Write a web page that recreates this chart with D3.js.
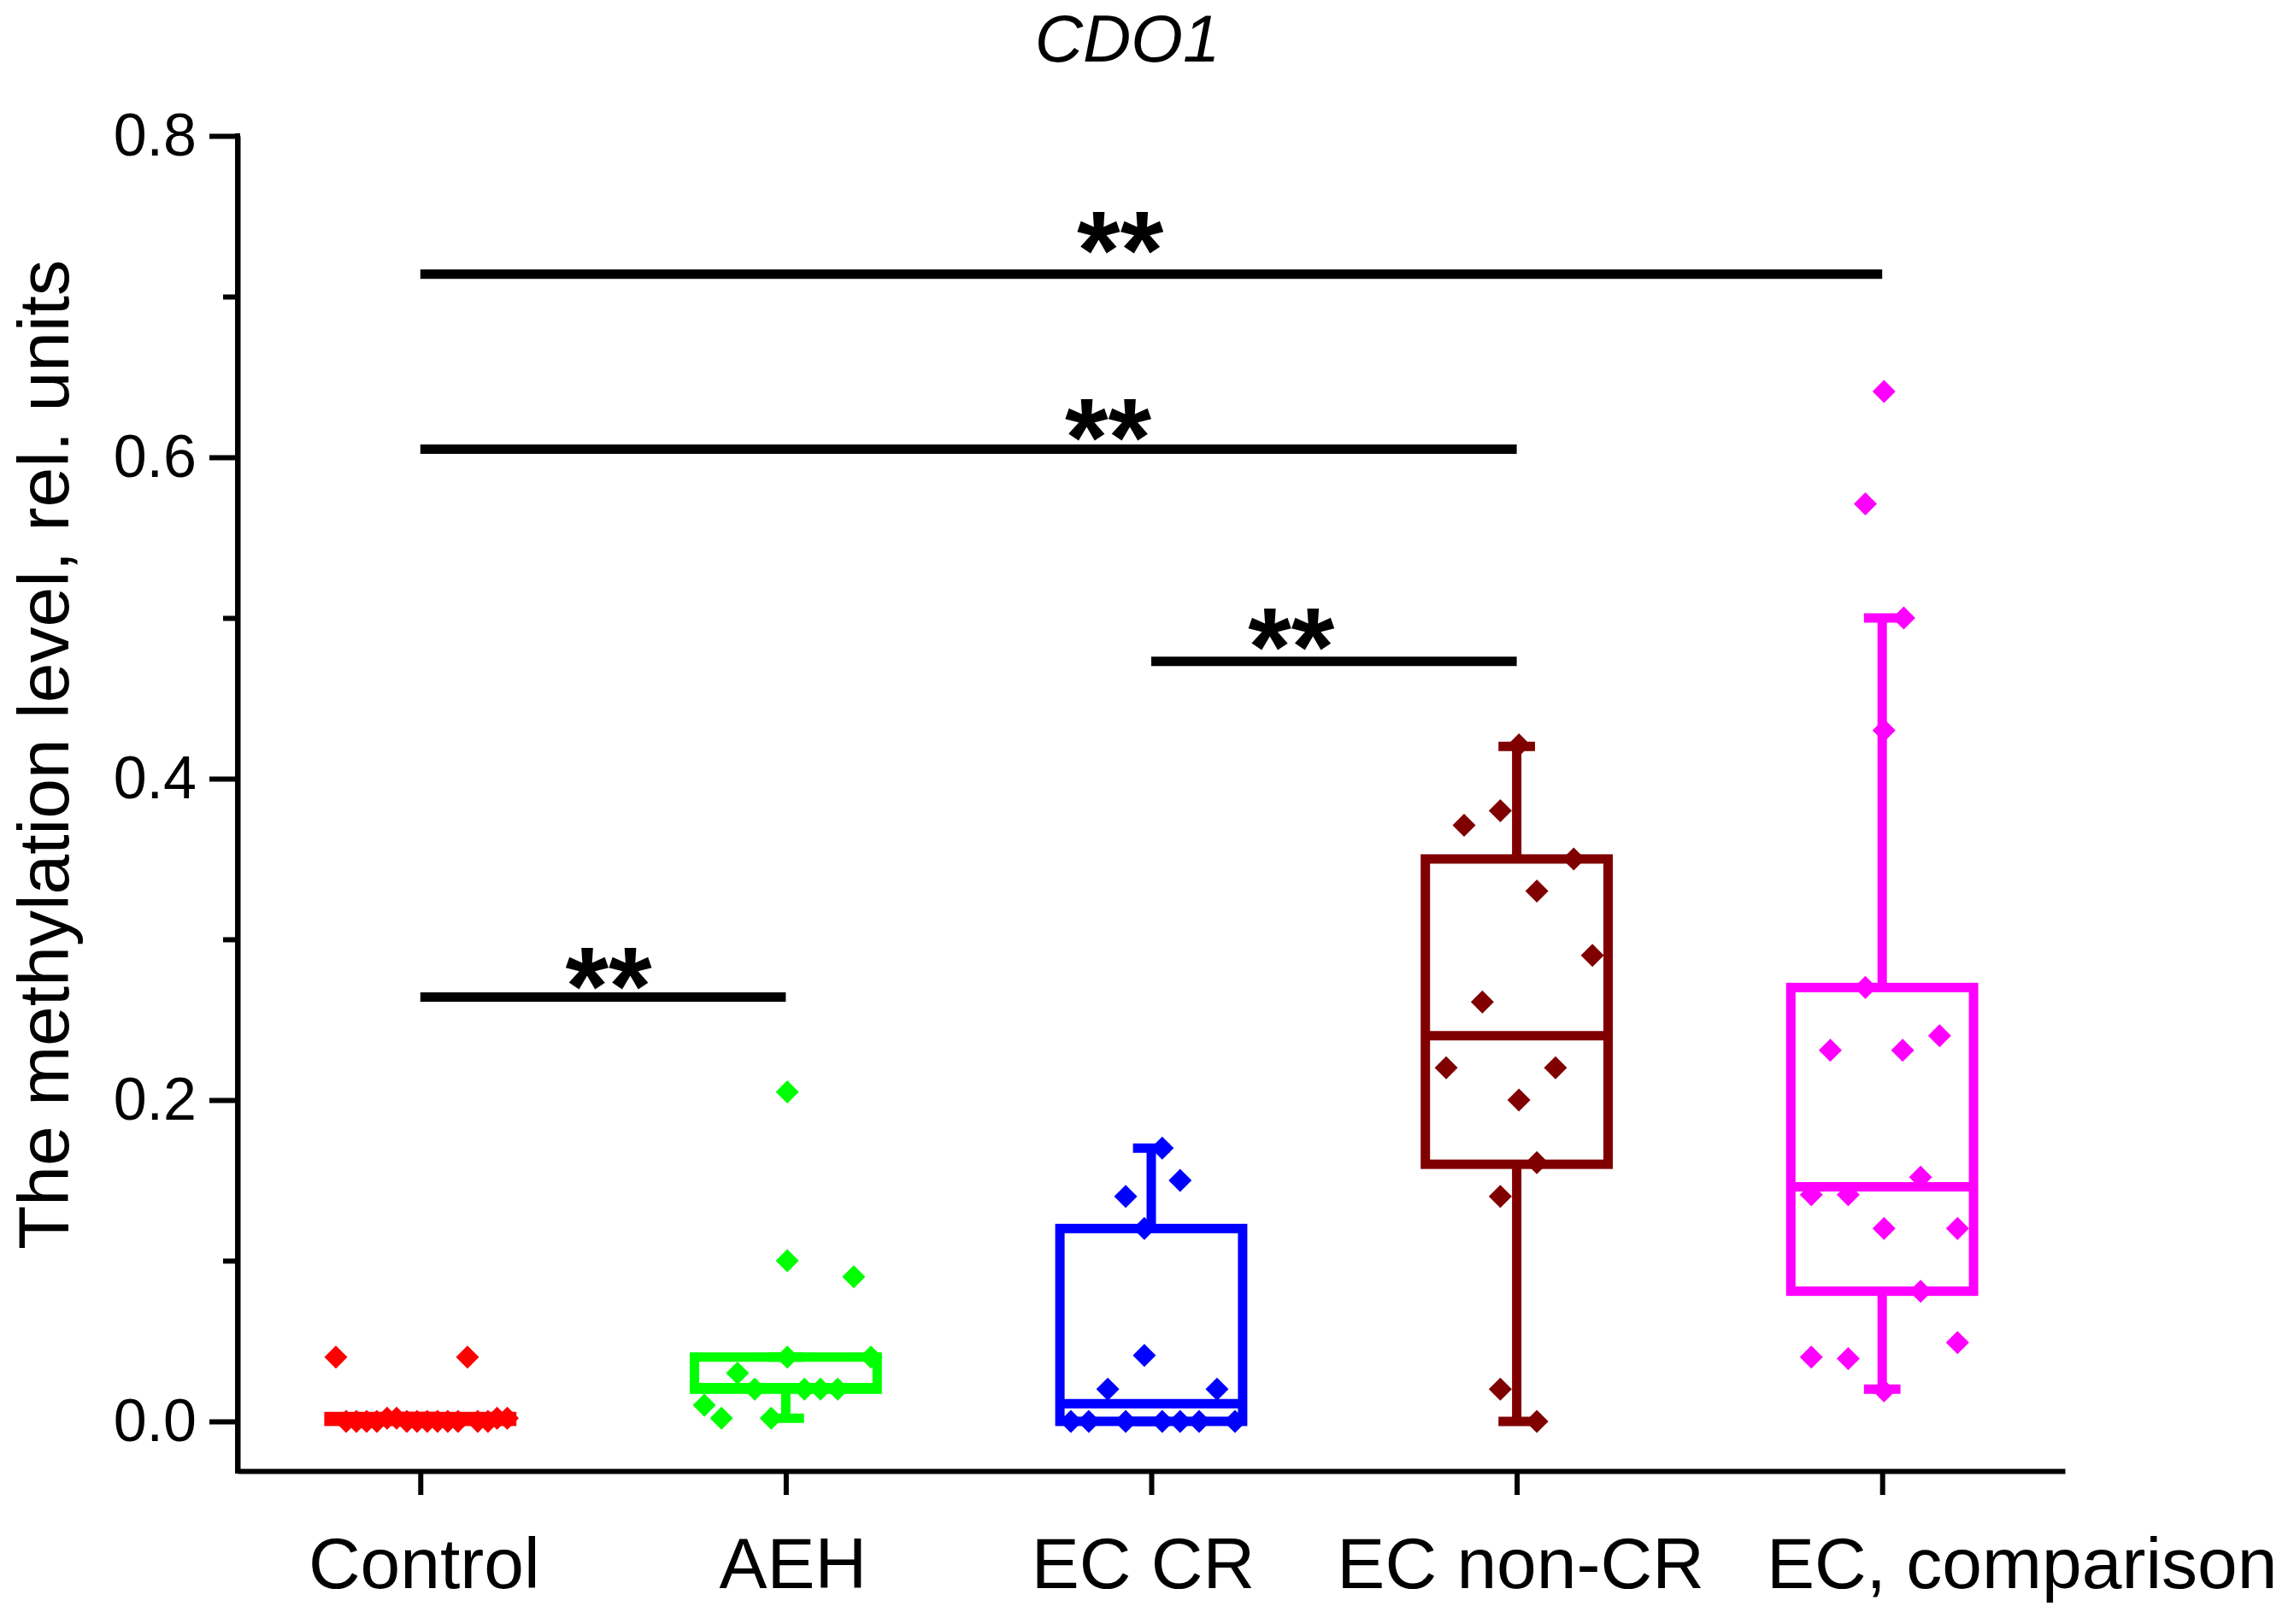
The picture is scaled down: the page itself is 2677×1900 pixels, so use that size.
<!DOCTYPE html>
<html>
<head>
<meta charset="utf-8">
<script src="https://cdn.jsdelivr.net/npm/d3@7"></script>
<style>
  body { margin: 0; background: #fff; }
  svg { display: block; font-family: "Liberation Sans", Arial, sans-serif; }
</style>
</head>
<body>
<svg width="2677" height="1900"></svg>
<script>
// categories and colours
const categories = ["Control", "AEH", "EC CR", "EC non-CR", "EC, comparison"];
const colors = ["#ff0000", "#00ff00", "#0000ff", "#800000", "#ff00ff"];

// box statistics
const whiskerLow  = [0,     0.002, 0,     0,    0.02];
const q1          = [0,     0.02,  0,     0.16, 0.081];
const median      = [0.001, 0.021, 0.011, 0.24, 0.146];
const q3          = [0.003, 0.04,  0.12,  0.35, 0.27];
const whiskerHigh = [0.003, 0.04,  0.17,  0.42, 0.50];

// raw points (value) and horizontal jitter (fraction of category step)
const controlValues = [0.04, 0.04, 0, 0, 0, 0, 0.002, 0.002, 0, 0, 0, 0, 0, 0, 0, 0, 0.002, 0.002];
const controlJitter = [-0.231, 0.129, -0.203, -0.175, -0.147, -0.119, -0.091, -0.065, -0.037, -0.009,
                       0.019, 0.047, 0.075, 0.103, 0.157, 0.185, 0.210, 0.238];
const aehValues = [0.205, 0.100, 0.090, 0.040, 0.040, 0.030, 0.020, 0.020, 0.020, 0.020, 0.010, 0.002, 0.002];
const aehJitter = [0.004, 0.004, 0.186, 0.004, 0.233, -0.132, -0.085, 0.051, 0.095, 0.142, -0.223, -0.176, -0.040];
const ecCrValues = [0.170, 0.150, 0.140, 0.120, 0.041, 0.020, 0.020, 0, 0, 0, 0, 0, 0, 0];
const ecCrJitter = [0.030, 0.079, -0.070, -0.019, -0.019, -0.119, 0.180, -0.220, -0.171, -0.070, 0.030, 0.079, 0.131, 0.229];
const ecNonCrValues = [0.371, 0.380, 0.421, 0.350, 0.330, 0.290, 0.261, 0.220, 0.220, 0.200, 0.161, 0.140, 0.020, 0.000];
const ecNonCrJitter = [-0.144, -0.045, 0.006, 0.156, 0.055, 0.207, -0.094, -0.193, 0.106, 0.006, 0.055, -0.045, -0.045, 0.055];
const ecCompValues = [0.641, 0.571, 0.500, 0.430, 0.270, 0.231, 0.231, 0.240, 0.152, 0.141, 0.141, 0.120, 0.120,
                      0.081, 0.049, 0.040, 0.039, 0.019];
const ecCompJitter = [0.005, -0.046, 0.059, 0.005, -0.046, -0.142, 0.056, 0.157, 0.105, -0.194, -0.093, 0.005, 0.206,
                      0.105, 0.206, -0.194, -0.093, 0.005];

// significance brackets
const bracketFrom  = [0, 0, 2, 0];
const bracketTo    = [4, 3, 3, 1];
const bracketLevel = [0.714, 0.605, 0.473, 0.264];
const starAt       = [1.915, 1.882, 2.383, 0.515];   // category index
const starBottom   = [0.732, 0.615, 0.485, 0.274];   // value
const starLabel    = ["**", "**", "**", "**"];

const yMajor = [0, 0.2, 0.4, 0.6, 0.8];
const yMinor = [0.1, 0.3, 0.5, 0.7];

const groups = [
  [controlValues, controlJitter],
  [aehValues, aehJitter],
  [ecCrValues, ecCrJitter],
  [ecNonCrValues, ecNonCrJitter],
  [ecCompValues, ecCompJitter]
];

const svg = d3.select("svg");
const plotLeft = 278, plotRight = 2416, plotTop = 159, plotBottom = 1721;

const x = d3.scalePoint().domain(categories).range([plotLeft, plotRight]).padding(0.5);
const xi = d3.scaleLinear().domain([0, 4]).range([x(categories[0]), x(categories[4])]);
const y = d3.scaleLinear().domain([-0.0309, 0.8]).range([plotBottom, plotTop]);
const step = x.step();

const diamond = {
  draw(ctx, size) {
    const r = Math.sqrt(size) / 2;
    ctx.moveTo(0, -r); ctx.lineTo(r, 0); ctx.lineTo(0, r); ctx.lineTo(-r, 0); ctx.closePath();
  }
};

// title
svg.append("text")
  .attr("x", 1319).attr("y", 72)
  .attr("text-anchor", "middle")
  .attr("font-size", 78).attr("font-style", "italic")
  .text("CDO1");

// y label
svg.append("text")
  .attr("transform", "translate(80,883) rotate(-90)")
  .attr("text-anchor", "middle")
  .attr("font-size", 84)
  .text("The methylation level, rel. units");

// axes
const yAxis = svg.append("g").attr("transform", `translate(${plotLeft},0)`)
  .call(d3.axisLeft(y).tickValues(yMajor).tickFormat(d3.format(".1f")).tickSize(33).tickSizeOuter(0).tickPadding(15));
svg.append("g").attr("transform", `translate(${plotLeft},0)`)
  .call(d3.axisLeft(y).tickValues(yMinor).tickFormat("").tickSize(17).tickSizeOuter(0))
  .select(".domain").remove();

const xAxis = svg.append("g").attr("transform", `translate(0,${plotBottom})`)
  .call(d3.axisBottom(x).tickSize(28).tickSizeOuter(0).tickPadding(49));

svg.selectAll(".domain").attr("stroke", "#000").attr("stroke-width", 6);
svg.selectAll(".tick line").attr("stroke", "#000").attr("stroke-width", 6);
yAxis.selectAll("text").attr("font-size", 70).attr("fill", "#000")
  .attr("font-family", "'Liberation Sans', Arial, sans-serif");
xAxis.selectAll("text").attr("font-size", 84).attr("fill", "#000")
  .attr("font-family", "'Liberation Sans', Arial, sans-serif")
  .attr("dx", (d, i) => [4, 8, -10, 4, 163][i]);

// y axis line continues down to the x axis
svg.append("line")
  .attr("x1", plotLeft).attr("x2", plotLeft)
  .attr("y1", y(0.8) - 3).attr("y2", plotBottom + 3)
  .attr("stroke", "#000").attr("stroke-width", 6);

// boxes
const bw = step * 0.5, cap = step * 0.1, sw = 11;
const boxes = svg.append("g");
categories.forEach((c, i) => {
  const cx = x(c), col = colors[i];
  const g = boxes.append("g").attr("stroke", col).attr("stroke-width", sw).attr("fill", "none");
  // whiskers
  g.append("line").attr("x1", cx).attr("x2", cx).attr("y1", y(q3[i])).attr("y2", y(whiskerHigh[i]));
  g.append("line").attr("x1", cx).attr("x2", cx).attr("y1", y(q1[i])).attr("y2", y(whiskerLow[i]));
  g.append("line").attr("x1", cx - cap / 2).attr("x2", cx + cap / 2).attr("y1", y(whiskerHigh[i])).attr("y2", y(whiskerHigh[i]));
  g.append("line").attr("x1", cx - cap / 2).attr("x2", cx + cap / 2).attr("y1", y(whiskerLow[i])).attr("y2", y(whiskerLow[i]));
  g.append("rect")
    .attr("x", cx - bw / 2).attr("width", bw)
    .attr("y", y(q3[i])).attr("height", Math.max(0.5, y(q1[i]) - y(q3[i])));
  g.append("line").attr("x1", cx - bw / 2).attr("x2", cx + bw / 2).attr("y1", y(median[i])).attr("y2", y(median[i]));
});

// points
const sym = d3.symbol().type(diamond).size(27 * 27);
groups.forEach(([vals, jit], i) => {
  svg.append("g").selectAll("path")
    .data(vals.map((v, k) => ({ v, j: jit[k] })))
    .join("path")
    .attr("d", sym)
    .attr("fill", colors[i])
    .attr("transform", d => `translate(${x(categories[i]) + d.j * step},${y(d.v)})`);
});

// significance bars
const fs = 130;
bracketLevel.forEach((lv, k) => {
  svg.append("line")
    .attr("x1", x(categories[bracketFrom[k]])).attr("x2", x(categories[bracketTo[k]]))
    .attr("y1", y(lv)).attr("y2", y(lv))
    .attr("stroke", "#000").attr("stroke-width", 11);
  svg.append("text")
    .attr("x", xi(starAt[k])).attr("y", y(starBottom[k]) + fs * 0.39)
    .attr("text-anchor", "middle")
    .attr("font-size", fs).attr("font-weight", "bold")
    .text(starLabel[k]);
});
</script>
</body>
</html>
